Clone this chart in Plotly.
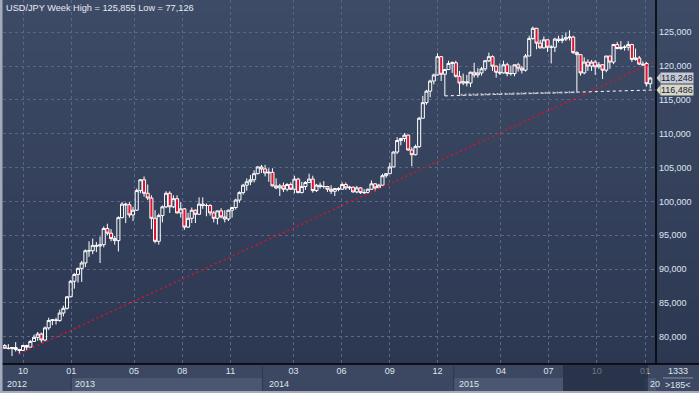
import plotly.graph_objects as go
import pandas as pd

W, H = 699, 393


def px(x):
    return x / W


def py(y):
    return 1 - y / H


# ---------------- data (weekly USD/JPY) ----------------
first_week = "2012-08-27"

open_ = [
    # 2012
    78.7, 78.3, 78.25, 78.4, 78.1, 77.95, 78.7, 78.45, 79.3, 79.9, 80.4, 79.5, 81.3, 82.4, 82.5, 82.4, 83.5, 84.2, 85.9,
    # 2013
    88.2, 89.2, 90.1, 90.9, 92.7, 92.7, 93.5, 93.4, 93.6, 96.0, 95.3, 94.5, 94.2, 97.6, 99.6, 99.5, 98.0, 98.7,
    101.6, 103.2, 101.2, 100.5, 97.5, 94.1, 97.9, 99.2, 101.2, 99.2, 100.4, 98.3, 98.9, 96.2, 97.5, 98.7, 98.1,
    99.6, 99.4, 99.4, 98.3, 97.5, 98.6, 97.7, 97.4, 98.7, 99.1, 100.2, 101.3, 102.4, 102.9, 103.2, 104.1, 105.1,
    # 2014
    104.8, 104.2, 104.3, 102.3, 102.0, 102.3, 101.8, 102.5, 101.8, 103.3, 101.3, 102.2, 102.8, 103.3, 101.6, 102.4,
    102.2, 102.2, 101.8, 101.5, 101.9, 101.8, 102.5, 102.0, 102.1, 101.4, 102.0, 101.3, 101.3, 101.8, 102.6, 102.0,
    102.4, 103.8, 104.1, 105.1, 107.3, 109.0, 109.3, 109.8, 107.6, 106.9, 108.1, 112.3, 114.6, 116.3, 117.8, 118.7,
    121.4, 118.8, 119.5, 120.4,
    # 2015
    120.5, 118.5, 117.5, 117.7, 117.5, 119.1, 118.7, 119.0, 119.6, 120.8, 121.4, 120.0, 119.1, 119.0, 120.2, 118.9,
    118.9, 120.2, 119.7, 119.4, 121.5, 124.1, 125.6, 123.4, 122.7, 123.9, 122.8, 122.8, 124.0, 123.8, 124.0, 124.2,
    124.3, 122.0, 121.7, 119.0, 120.6, 120.0, 120.6, 119.9, 120.2, 119.4, 121.5, 120.6, 123.2, 122.6, 122.8, 122.8,
    123.2, 121.0, 121.2, 120.3,
    # 2016
    120.4, 117.4,
]

high = [
    # 2012
    78.9, 78.9, 78.4, 79.2, 78.2, 78.8, 78.8, 79.5, 80.3, 80.7, 80.6, 81.5, 82.8, 82.6, 82.8, 84.0, 84.6, 86.0, 88.4,
    # 2013
    89.4, 90.2, 91.2, 92.9, 94.1, 94.5, 94.0, 94.8, 96.3, 96.7, 95.9, 94.9, 97.8, 99.9, 99.8, 99.9, 99.2, 101.9,
    103.3, 103.7, 102.5, 100.9, 98.7, 98.2, 99.4, 101.5, 101.5, 100.9, 100.9, 99.9, 99.0, 98.3, 99.1, 98.8, 100.6,
    100.6, 99.7, 99.6, 98.6, 98.6, 99.0, 98.7, 98.8, 99.2, 100.4, 101.5, 102.6, 103.4, 103.9, 104.6, 105.2, 105.4,
    # 2014
    105.4, 104.9, 104.9, 103.4, 102.6, 102.8, 102.7, 102.8, 103.8, 103.5, 102.9, 103.0, 104.1, 103.8, 102.6, 102.8,
    103.0, 102.3, 102.4, 102.0, 102.1, 102.8, 102.8, 102.3, 102.2, 102.3, 102.1, 101.8, 101.9, 103.1, 102.7, 102.6,
    104.1, 104.2, 105.7, 107.4, 109.5, 109.4, 110.1, 109.9, 108.0, 108.4, 112.5, 115.6, 116.5, 118.0, 118.9, 121.9,
    121.5, 119.6, 120.8, 120.7,
    # 2015
    120.8, 119.3, 118.9, 118.7, 119.2, 120.5, 119.7, 119.9, 120.9, 122.0, 121.6, 120.1, 120.4, 120.8, 120.5, 120.1,
    120.2, 120.5, 120.0, 121.8, 124.5, 125.855, 125.6, 123.9, 124.4, 123.9, 123.1, 124.2, 124.5, 124.6, 125.0, 125.3,
    124.5, 122.2, 121.7, 121.3, 121.0, 120.9, 120.9, 120.6, 120.3, 121.5, 121.5, 123.3, 123.6, 123.7, 123.1, 123.7,
    123.3, 122.6, 121.5, 120.7,
    # 2016
    120.6, 118.4,
]

low = [
    # 2012
    78.2, 78.1, 77.126, 77.8, 77.4, 77.9, 78.0, 78.4, 79.3, 79.4, 79.1, 79.3, 81.0, 81.7, 81.8, 82.2, 83.0, 84.0, 85.8,
    # 2013
    87.1, 88.0, 88.1, 90.3, 91.8, 92.2, 92.5, 90.9, 93.2, 95.0, 94.1, 93.6, 92.6, 97.5, 96.8, 97.6, 97.1, 98.6,
    101.2, 100.7, 100.2, 95.9, 93.8, 93.6, 96.9, 99.0, 98.3, 99.0, 98.2, 97.6, 95.8, 96.1, 96.8, 96.8, 98.0,
    98.9, 97.8, 97.9, 96.9, 96.6, 97.5, 96.9, 97.1, 97.6, 98.8, 99.8, 101.0, 101.6, 102.4, 102.8, 104.0, 104.2,
    # 2014
    103.7, 102.9, 102.2, 101.8, 100.8, 101.4, 101.5, 101.7, 101.2, 101.2, 101.2, 101.7, 102.8, 101.3, 101.4, 101.9,
    101.9, 101.4, 101.1, 100.8, 101.5, 101.7, 101.7, 101.7, 101.3, 101.2, 101.1, 101.1, 101.2, 101.7, 101.5, 101.9,
    102.3, 103.5, 104.1, 105.1, 107.0, 108.3, 108.8, 107.5, 105.2, 106.8, 107.9, 112.3, 114.3, 115.4, 117.3, 118.6,
    117.8, 115.6, 119.5, 119.0,
    # 2015
    118.3, 115.8, 117.2, 117.0, 116.9, 118.3, 118.3, 118.6, 119.3, 120.6, 119.3, 118.3, 118.7, 118.9, 118.5, 118.6,
    118.5, 119.2, 118.9, 119.2, 121.5, 123.9, 122.5, 122.6, 122.6, 122.1, 120.4, 122.1, 123.5, 123.4, 123.7, 123.8,
    121.8, 116.15, 118.6, 118.8, 119.3, 119.3, 118.7, 119.6, 118.1, 119.1, 119.6, 120.3, 122.5, 122.4, 122.3, 122.3,
    120.6, 120.8, 120.2, 120.0,
    # 2016
    117.0, 116.7,
]

close = [
    # 2012
    78.3, 78.25, 78.4, 78.1, 77.95, 78.7, 78.45, 79.3, 79.9, 80.4, 79.5, 81.3, 82.4, 82.5, 82.4, 83.5, 84.2, 85.9, 88.2,
    # 2013
    89.2, 90.1, 90.9, 92.7, 92.7, 93.5, 93.4, 93.6, 96.0, 95.3, 94.5, 94.2, 97.6, 99.6, 99.5, 98.0, 98.7, 101.6,
    103.2, 101.2, 100.5, 97.5, 94.1, 97.9, 99.2, 101.2, 99.2, 100.4, 98.3, 98.9, 96.2, 97.5, 98.7, 98.1, 99.6,
    99.4, 99.4, 98.3, 97.5, 98.6, 97.7, 97.4, 98.7, 99.1, 100.2, 101.3, 102.4, 102.9, 103.2, 104.1, 105.1, 104.8,
    # 2014
    104.2, 104.3, 102.3, 102.0, 102.3, 101.8, 102.5, 101.8, 103.3, 101.3, 102.2, 102.8, 103.3, 101.6, 102.4, 102.2,
    102.2, 101.8, 101.5, 101.9, 101.8, 102.5, 102.0, 102.1, 101.4, 102.0, 101.3, 101.3, 101.8, 102.6, 102.0, 102.4,
    103.8, 104.1, 105.1, 107.3, 109.0, 109.3, 109.8, 107.6, 106.9, 108.1, 112.3, 114.6, 116.3, 117.8, 118.7, 121.4,
    118.8, 119.5, 120.4, 120.5,
    # 2015
    118.5, 117.5, 117.7, 117.5, 119.1, 118.7, 119.0, 119.6, 120.8, 121.4, 120.0, 119.1, 119.0, 120.2, 118.9, 118.9,
    120.2, 119.7, 119.4, 121.5, 124.1, 125.6, 123.4, 122.7, 123.9, 122.8, 122.8, 124.0, 123.8, 124.0, 124.2, 124.3,
    122.0, 121.7, 119.0, 120.6, 120.0, 120.6, 119.9, 120.2, 119.4, 121.5, 120.6, 123.2, 122.6, 122.8, 122.8, 123.2,
    121.0, 121.2, 120.3, 120.2,
    # 2016
    117.4, 118.248,
]

# trend lines (two points each)
red_trend_dates = ["2012-09-24", "2016-01-20"]
red_trend_vals = [77.45, 120.65]
support_dates = ["2014-12-15", "2016-01-22"]
support_vals = [115.6, 116.486]
support_grey_dates = ["2015-01-14", "2015-08-24"]
support_grey_vals = [115.77, 116.15]

# axis ticks
month_ticks = ["2012-10-01", "2013-01-01", "2013-05-01", "2013-08-01", "2013-11-01", "2014-03-01",
               "2014-06-01", "2014-09-01", "2014-12-01", "2015-04-01", "2015-07-01", "2015-10-01", "2016-01-01"]
month_labels = ["10", "01", "05", "08", "11", "03", "06", "09", "12", "04", "07", "10", "01"]
price_ticks = [80, 85, 90, 95, 100, 105, 110, 115, 120, 125]
year_labels = ["2012", "2013", "2014", "2015", "20"]
year_label_pos = ["2012-08-27", "2013-01-05", "2014-01-10", "2015-01-07", "2016-01-06"]

last_price = 118.248
support_price = 116.486
title_text = "USD/JPY Week High = 125,855 Low = 77,126"

dates = pd.date_range(first_week, periods=len(close), freq="7D")

# ---------------- figure ----------------
FONT = "Liberation Sans, Arial, sans-serif"
TXT = "#dfe5f0"
PLOT_BOTTOM = 364

fig = go.Figure()

fig.add_trace(go.Candlestick(
    x=dates, open=open_, high=high, low=low, close=close,
    increasing=dict(line=dict(color="#ffffff", width=1), fillcolor="rgba(0,0,0,0)"),
    decreasing=dict(line=dict(color="#ffffff", width=1), fillcolor="#e0122e"),
    whiskerwidth=0, hoverinfo="skip", showlegend=False,
))

fig.add_trace(go.Scatter(x=red_trend_dates, y=red_trend_vals, mode="lines",
                         line=dict(color="#d4142c", width=1.5, dash="2px,3px"),
                         hoverinfo="skip", showlegend=False))
fig.add_trace(go.Scatter(x=support_dates, y=support_vals, mode="lines",
                         line=dict(color="#ffffff", width=1, dash="3px,3px"),
                         hoverinfo="skip", showlegend=False, cliponaxis=False))
fig.add_trace(go.Scatter(x=support_grey_dates, y=support_grey_vals, mode="lines",
                         line=dict(color="#b4b8c2", width=2, dash="2px,2px"),
                         hoverinfo="skip", showlegend=False))

shapes = []
# vertical gradient background
top_c = (62, 75, 102)
bot_c = (44, 56, 82)
n = 28
for i in range(n):
    t = (i + 0.5) / n
    c = tuple(round(top_c[k] + (bot_c[k] - top_c[k]) * t) for k in range(3))
    y0 = PLOT_BOTTOM * i / n
    y1 = PLOT_BOTTOM * (i + 1) / n + 0.6
    shapes.append(dict(type="rect", xref="paper", yref="paper", x0=0, x1=1,
                       y0=py(min(y1, PLOT_BOTTOM)), y1=py(y0), line_width=0,
                       fillcolor="rgb(%d,%d,%d)" % c, layer="below"))
# bottom panel
shapes.append(dict(type="rect", xref="paper", yref="paper", x0=0, x1=1, y0=0, y1=py(PLOT_BOTTOM),
                   line_width=0, fillcolor="#3c4762", layer="below"))
# lighter year boxes
for a, b in [("2013-01-01", "2014-01-01"), ("2015-01-01", "2015-07-29"), ("2016-01-01", "2016-01-22")]:
    shapes.append(dict(type="rect", xref="x", yref="paper", x0=a, x1=b, y0=py(391), y1=py(378),
                       line_width=0, fillcolor="#4b5671", layer="below"))
# year separators
for a in ["2013-01-01", "2014-01-01", "2015-01-01"]:
    shapes.append(dict(type="line", xref="x", yref="paper", x0=a, x1=a, y0=py(391), y1=py(366),
                       line=dict(color="#2e3850", width=1), layer="below"))
# dark scroll window overlay
shapes.append(dict(type="rect", xref="paper", yref="paper", x0=px(563), x1=px(648), y0=py(391),
                   y1=py(PLOT_BOTTOM + 1), line_width=0, fillcolor="rgba(28,38,58,0.6)", layer="above"))
# frame lines
shapes.append(dict(type="line", xref="paper", yref="paper", x0=px(656), x1=px(656), y0=py(PLOT_BOTTOM), y1=1,
                   line=dict(color="#000000", width=1.5), layer="above"))
shapes.append(dict(type="line", xref="paper", yref="paper", x0=0, x1=1, y0=py(PLOT_BOTTOM), y1=py(PLOT_BOTTOM),
                   line=dict(color="#000000", width=1.5), layer="above"))
shapes.append(dict(type="rect", xref="paper", yref="paper", x0=0, x1=px(2.5), y0=0, y1=1,
                   line_width=0, fillcolor="#a3abbd", layer="above"))
shapes.append(dict(type="rect", xref="paper", yref="paper", x0=0, x1=1, y0=0, y1=py(391),
                   line_width=0, fillcolor="#a3abbd", layer="above"))
# right corner box
shapes.append(dict(type="rect", xref="paper", yref="paper", x0=px(657), x1=1, y0=py(391), y1=py(PLOT_BOTTOM + 1),
                   line_width=0, fillcolor="#3c4762", layer="above"))
shapes.append(dict(type="line", xref="paper", yref="paper", x0=px(663), x1=px(693), y0=py(378), y1=py(378),
                   line=dict(color="#8890a3", width=1), layer="above"))

# price label arrows
d = 5 / 6.764
for val, col in [(last_price, "#c6cad2"), (support_price, "#d8d8c6")]:
    shapes.append(dict(type="path", xref="paper", yref="y",
                       path="M %f,%f L %f,%f L %f,%f Z" % (px(656.5), val, px(660.5), val + d, px(660.5), val - d),
                       fillcolor=col, line_width=0, layer="above"))

annotations = [
    dict(text=title_text, x=px(4), y=py(8.5), xref="paper", yref="paper", xanchor="left", yanchor="middle",
         showarrow=False, font=dict(family=FONT, size=9.2, color="#e6eaf2")),
    dict(text="1333", x=px(677.5), y=py(371), xref="paper", yref="paper", xanchor="center", yanchor="middle",
         showarrow=False, font=dict(family=FONT, size=9, color=TXT)),
    dict(text="&gt;185&lt;", x=px(677.5), y=py(384.5), xref="paper", yref="paper", xanchor="center",
         yanchor="middle", showarrow=False, font=dict(family=FONT, size=9, color=TXT)),
]
for lbl, pos in zip(year_labels, year_label_pos):
    annotations.append(dict(text=lbl, x=pos, y=py(384), xref="x", yref="paper", xanchor="left", yanchor="middle",
                            showarrow=False, font=dict(family=FONT, size=9, color=TXT)))
for val, col in [(last_price, "#c6cad2"), (support_price, "#d8d8c6")]:
    annotations.append(dict(text=f"{val:.3f}".replace(".", ","), x=px(660), y=val, xref="paper", yref="y",
                            xanchor="left", yanchor="middle", showarrow=False, bgcolor=col, borderpad=0,
                            font=dict(family=FONT, size=9, color="#16203a")))

fig.update_layout(
    width=W, height=H,
    margin=dict(l=0, r=0, t=0, b=0),
    paper_bgcolor="#34405b",
    plot_bgcolor="rgba(0,0,0,0)",
    separators=",.",
    boxgap=0.12, boxgroupgap=0.05,
    shapes=shapes,
    annotations=annotations,
    showlegend=False,
    xaxis=dict(
        type="date", domain=[px(3), px(656)], range=["2012-08-23 19:00", "2016-01-22"],
        tickvals=month_ticks, ticktext=month_labels, ticks="", showline=False, zeroline=False,
        showgrid=True, gridcolor="#5a6784", griddash="3px,3px", gridwidth=1,
        tickfont=dict(family=FONT, size=9, color=TXT), rangeslider=dict(visible=False), fixedrange=True,
    ),
    yaxis=dict(
        side="right", domain=[py(PLOT_BOTTOM), 1], range=[75.96, 129.78],
        tickvals=price_ticks, tickformat=".3f", ticks="", showline=False, zeroline=False,
        showgrid=True, gridcolor="#5a6784", griddash="3px,3px", gridwidth=1,
        tickfont=dict(family=FONT, size=9, color=TXT), ticklabelstandoff=2, fixedrange=True,
    ),
)

fig.write_html("out.html", config={"displayModeBar": False},
               post_script="document.body.style.margin='0px';document.body.style.overflow='hidden';")
